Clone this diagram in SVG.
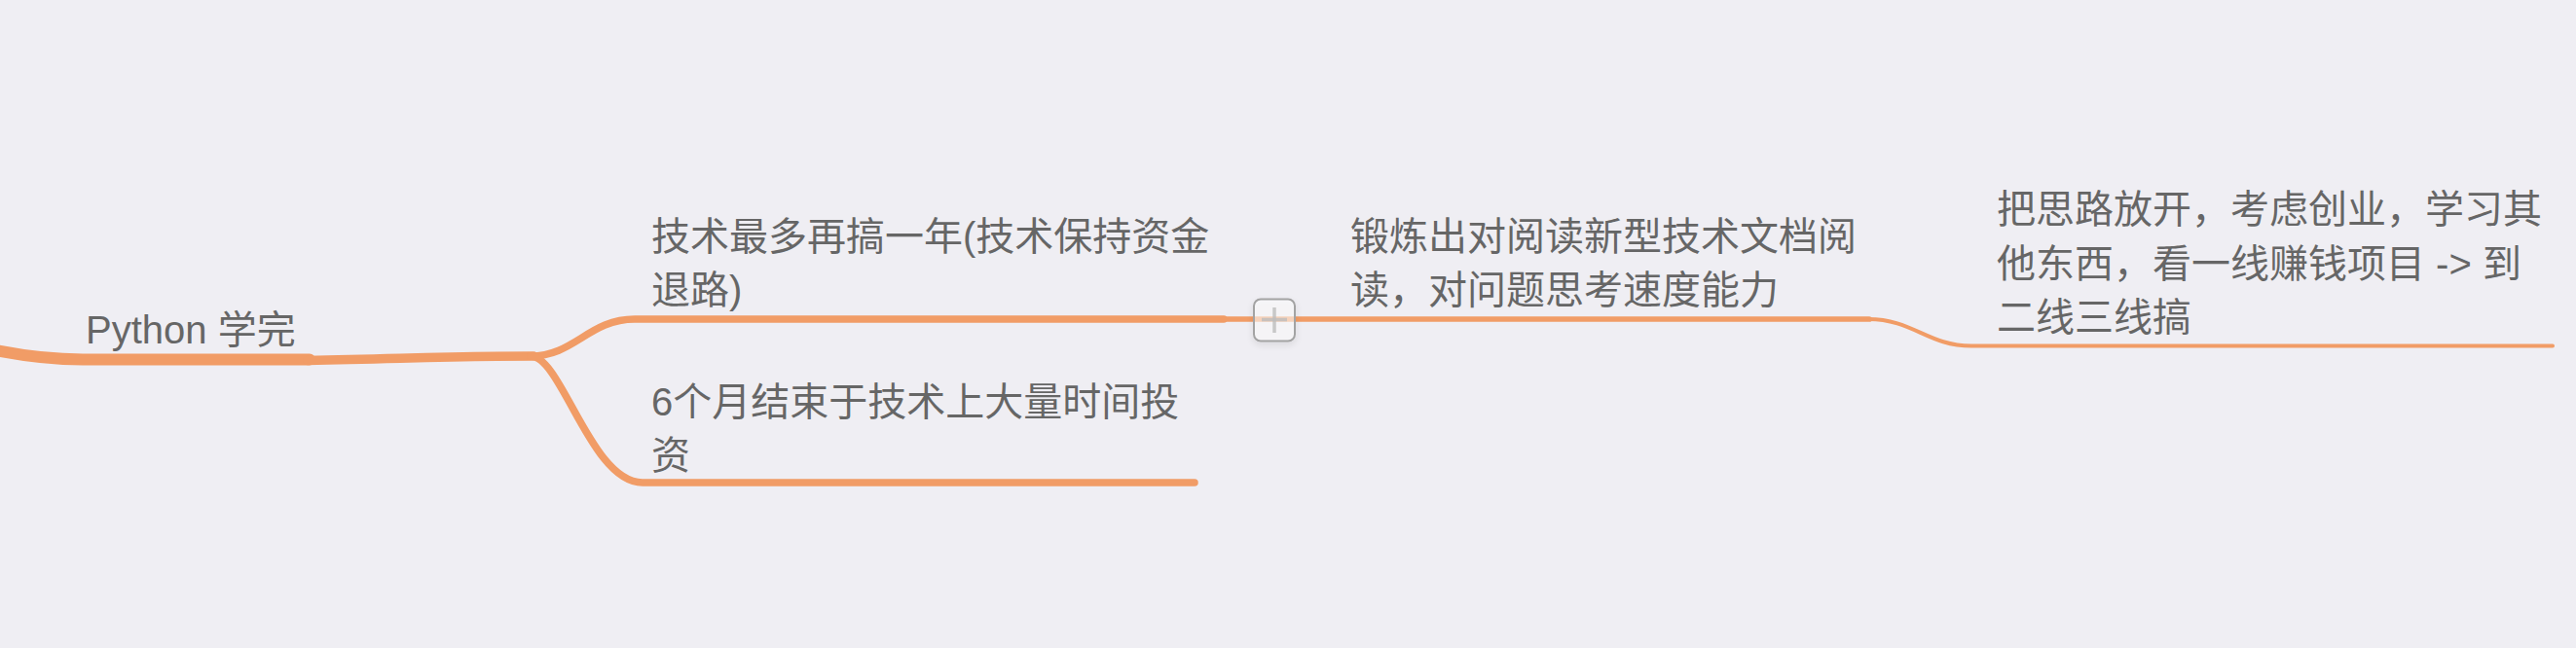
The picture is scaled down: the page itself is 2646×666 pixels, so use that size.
<svg xmlns="http://www.w3.org/2000/svg" width="2646" height="666" viewBox="0 0 2646 666">
  <defs>
    <style>
      .bg { fill: #efeef3; }
      .conn { fill: none; stroke: #f19c66; stroke-linecap: round; stroke-linejoin: round; }
      .label { font-family: "Liberation Sans", "Noto Sans CJK SC", sans-serif; font-size: 40px; fill: #666666; }
      .btn { fill: #ffffff; fill-opacity: 0.55; stroke: #a3a3a3; stroke-width: 2; }
      .plus { stroke: #bdbdbd; stroke-width: 3.5; stroke-opacity: 0.8; }
    </style>
    <filter id="shadow" x="-50%" y="-50%" width="200%" height="200%">
      <feDropShadow dx="0" dy="3" stdDeviation="3" flood-color="#000000" flood-opacity="0.12"/>
    </filter>
  </defs>

  <rect class="bg" x="0" y="0" width="2646" height="666"/>

  <g id="connectors">
    <!-- root underline -->
    <path class="conn" stroke-width="12" stroke-linecap="butt" d="M-5,360 C 25,366 50,369.5 85,369.5 L 318,369.5"/>
    <!-- root to branch point -->
    <path class="conn" stroke-width="9.5" stroke-linecap="butt" d="M316,370.5 C 420,368.5 460,366 548,366"/>
    <!-- upper branch -->
    <path class="conn" stroke-width="7.5" stroke-linecap="butt" d="M545,366 C 590,366 605,328 652,328 L 1257,328"/>
    <!-- lower branch -->
    <path class="conn" stroke-width="7.5" d="M545,366 C 577,366 607,496 660,496 L 1227,496"/>
    <!-- node1 to node3 -->
    <path class="conn" stroke-width="5.7" stroke-linecap="butt" d="M1257,328 L 1920,328"/>
    <!-- node3 to node4 -->
    <path class="conn" stroke-width="4" d="M1919,328 C 1965,328 1980,355.5 2025,355.5 L 2622,355.5"/>
  </g>

  <g id="node-root">
    <text class="label" x="88" y="353">Python 学完</text>
  </g>

  <g id="node-tech-year">
    <text class="label" x="669" y="257">技术最多再搞一年(技术保持资金<tspan x="669" dy="55">退路)</tspan></text>
  </g>

  <g id="node-six-months">
    <text class="label" x="669" y="427">6个月结束于技术上大量时间投<tspan x="669" dy="55">资</tspan></text>
  </g>

  <g id="node-toggle">
    <rect class="btn" x="1288" y="307.5" width="42" height="43" rx="7" ry="7" filter="url(#shadow)"/>
    <line class="plus" x1="1309" y1="316" x2="1309" y2="342"/>
    <line class="plus" x1="1296" y1="328.5" x2="1322" y2="328.5"/>
  </g>

  <g id="node-reading">
    <text class="label" x="1387" y="257">锻炼出对阅读新型技术文档阅<tspan x="1387" dy="55">读，对问题思考速度能力</tspan></text>
  </g>

  <g id="node-open-mind">
    <text class="label" x="2051" y="229">把思路放开，考虑创业，学习其<tspan x="2051" dy="55.5">他东西，看一线赚钱项目 -&gt; 到</tspan><tspan x="2051" dy="55.5">二线三线搞</tspan></text>
  </g>
</svg>
